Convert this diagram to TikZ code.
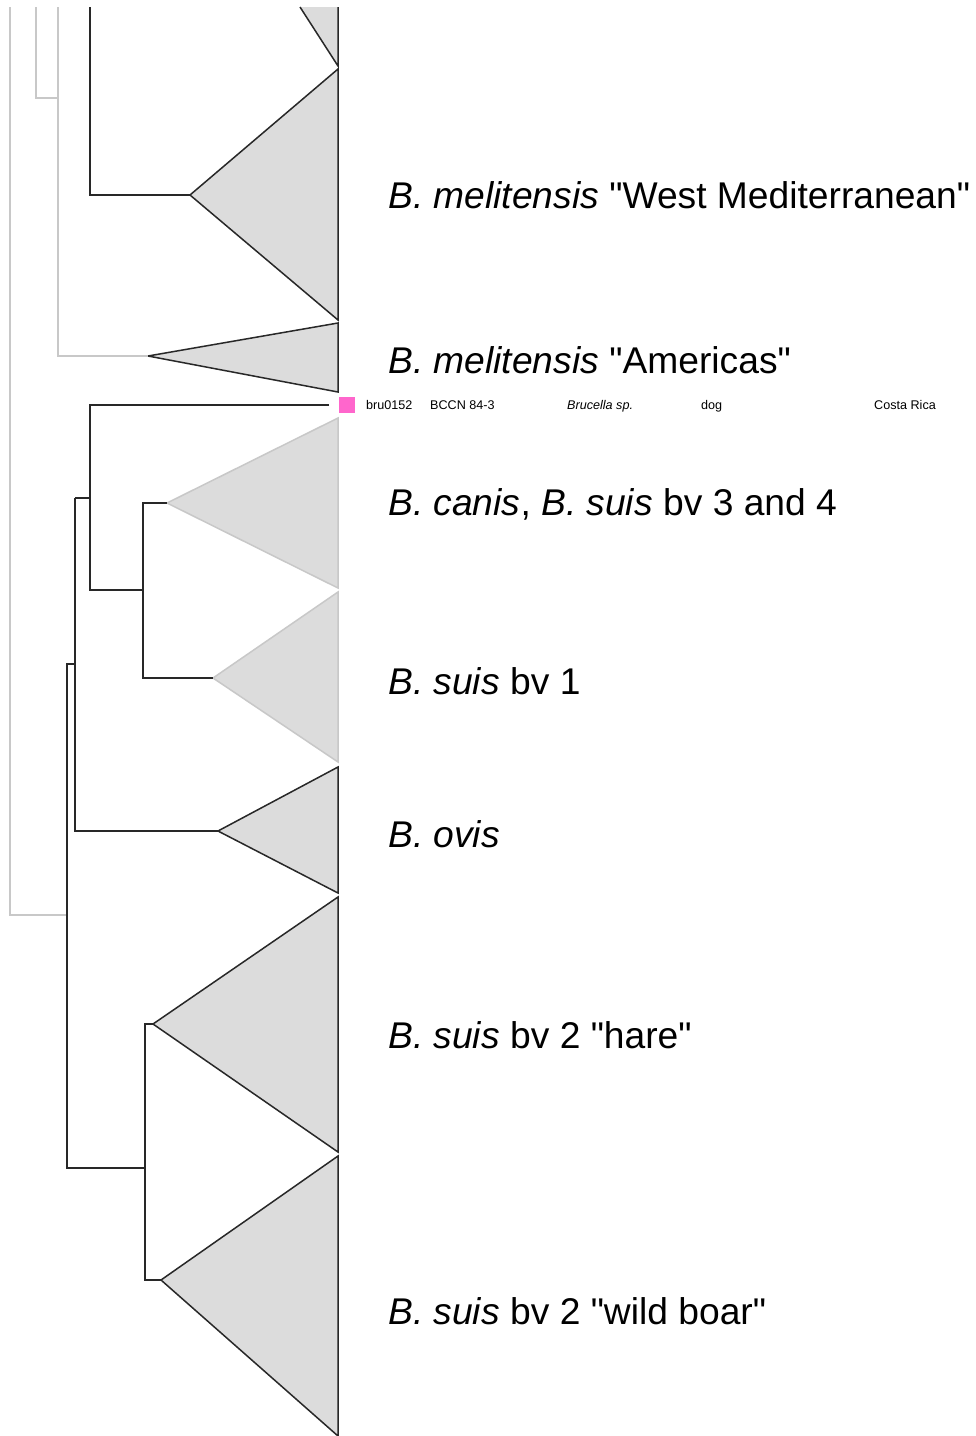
\documentclass[tikz,border=0pt]{standalone}
\usepackage{fontspec}
\setmainfont{Liberation Sans}
\definecolor{branch}{RGB}{40,40,40}
\definecolor{faint}{RGB}{200,200,200}
\definecolor{cladefill}{RGB}{220,220,220}
\definecolor{tipmark}{RGB}{255,102,204}
% straight double quote, set as a glyph so no input mapping turns it curly
\newcommand{\dq}{\XeTeXglyph\XeTeXcharglyph"22\relax}
\begin{document}
\begin{tikzpicture}[x=1pt,y=-1pt,
  br/.style={draw=branch,line width=1.5pt},
  brfaint/.style={draw=faint,line width=1.5pt},
  clade/.style={fill=cladefill,draw=branch,line width=1.5pt,line join=miter},
  cladefaint/.style={fill=cladefill,draw=faint,line width=1.5pt},
  lab/.style={anchor=west,inner sep=0pt,font=\fontsize{37.2}{42}\selectfont},
  small/.style={anchor=base west,inner sep=0pt,font=\fontsize{12.6}{14}\selectfont}]
\useasboundingbox[fill=white] (0,0) rectangle (976,1436);

% tip edge of all collapsed clades
\def\tipx{338}

% ---- collapsed clades (apex, top, bottom)
\coordinate (wmA) at (190,195);
\coordinate (amA) at (148,356);
\coordinate (caA) at (167,503);
\coordinate (s1A) at (213,678);
\coordinate (ovA) at (218,831);
\coordinate (haA) at (153,1024);
\coordinate (wbA) at (161,1280);

% partly visible clade at the top
\fill[cladefill] (300,7) -- (\tipx,66) -- (\tipx,7) -- cycle;
\draw[br] (300,7) -- (\tipx,66) -- (\tipx,7);

\draw[clade] (wmA) -- (\tipx,69) -- (\tipx,320) -- cycle;
\draw[clade] (amA) -- (\tipx,323) -- (\tipx,392) -- cycle;
\draw[cladefaint] (caA) -- (\tipx,418) -- (\tipx,588) -- cycle;
\draw[cladefaint] (s1A) -- (\tipx,592) -- (\tipx,762) -- cycle;
\draw[clade] (ovA) -- (\tipx,767) -- (\tipx,893) -- cycle;
\draw[clade] (haA) -- (\tipx,897) -- (\tipx,1152) -- cycle;
\draw[clade] (wbA) -- (\tipx,1156) -- (\tipx,1436) -- cycle;

% ---- single leaf
\node[fill=tipmark,minimum size=16pt,inner sep=0pt] (leaf) at (347,404.5) {};
\coordinate (leafEnd) at (329,405);

% ---- internal nodes
\coordinate (root) at (10,915);
\coordinate (n36) at (36,98);
\coordinate (n58) at (58,98);
\coordinate (n90a) at (90,7);
\coordinate (n90) at (90,405);
\coordinate (n143) at (143,590);
\coordinate (n75) at (75,664);
\coordinate (n67) at (67,915);
\coordinate (n145) at (145,1168);

% faint (low support) branches
\draw[brfaint] (10,7) -- (root) -- (n67);
\draw[brfaint] (36,7) -- (n36) -- (n58);
\draw[brfaint] (58,7) -- (58,356) -- (amA);

% melitensis West Mediterranean
\draw[br] (n90a) -- (90,195) -- (wmA);

% canis / suis bv 1 group
\draw[br] (leafEnd) -- (n90) -- (90,590) -- (n143);
\draw[br] (75,498) -- (90,498);
\draw[br] (caA) -- (143,503) -- (143,678) -- (s1A);
\draw[br] (75,498) -- (75,831) -- (ovA);
\draw[br] (n75) -- (67,664) -- (67,1168) -- (n145);
\draw[br] (haA) -- (145,1024) -- (145,1280) -- (wbA);

% ---- labels
\node[lab] (lwm) at (388,195) {\textit{B. melitensis} \dq West Mediterranean\dq};
\node[lab] (lam) at (388,360) {\textit{B. melitensis} \dq Americas\dq};
\node[lab] (lca) at (388,504) {\textit{B. canis}, \textit{B. suis} bv 3 and 4};
\node[lab] (ls1) at (388,681) {\textit{B. suis} bv 1};
\node[lab] (lov) at (388,834) {\textit{B. ovis}};
\node[lab] (lha) at (388,1035) {\textit{B. suis} bv 2 \dq hare\dq};
\node[lab] (lwb) at (388,1311) {\textit{B. suis} bv 2 \dq wild boar\dq};

\node[small] (id) at (366,409) {bru0152};
\node[small] (strain) at (430,409) {BCCN 84-3};
\node[small] (sp) at (567,409) {\textit{Brucella sp.}};
\node[small] (host) at (701,409) {dog};
\node[small] (ctry) at (874,409) {Costa Rica};
\end{tikzpicture}
\end{document}
